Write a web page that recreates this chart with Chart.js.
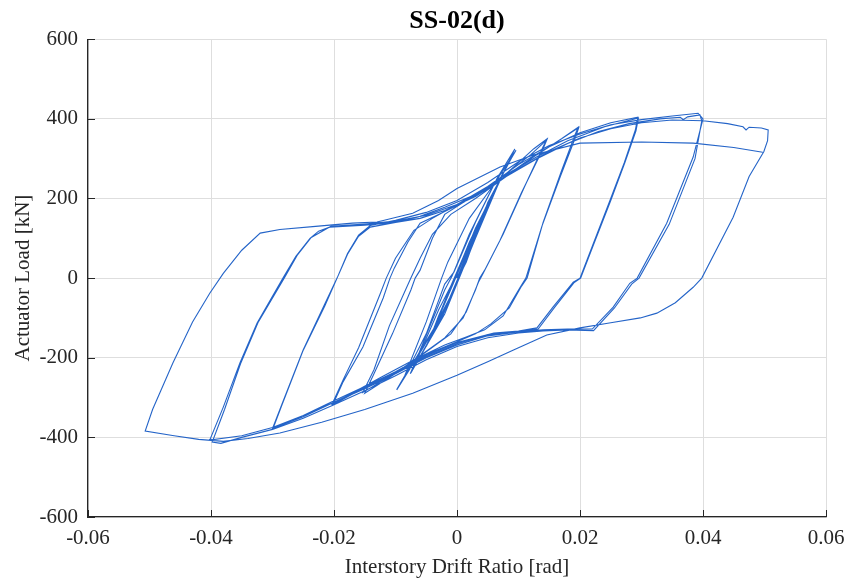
<!DOCTYPE html>
<html>
<head>
<meta charset="utf-8">
<title>SS-02(d)</title>
<script src="https://cdn.jsdelivr.net/npm/chart.js@4.4.1/dist/chart.umd.min.js"></script>
<style>
  html, body { margin: 0; padding: 0; background: #ffffff; }
  #graph { width: 845px; height: 583px; }
</style>
</head>
<body>
<div id="graph"><canvas id="chart" width="845" height="583"></canvas></div>
<script>
// tick labels
const xTickLabels = ['-0.06', '-0.04', '-0.02', '0', '0.02', '0.04', '0.06'];
const yTickLabels = ['-600', '-400', '-200', '0', '200', '400', '600'];

// [drift ratio (rad), actuator load (kN)], in loading order
const start = [[0, 0]];

const cycles00375 = [
  [0.002, 75], [0.0038, 135],
  [0.003, 100], [0.0005, 10], [-0.001, -45], [-0.0037, -125],
  [-0.003, -100], [-0.0005, -10], [0.001, 45], [0.0038, 138],
  [0.003, 105], [0.0003, 5], [-0.0012, -50], [-0.0038, -128]
];

const cycles005 = [
  [-0.003, -95], [-0.0003, 0], [0.002, 80], [0.005, 185],
  [0.004, 150], [0.001, 30], [-0.001, -50], [-0.005, -170],
  [-0.004, -135], [-0.001, -20], [0.0015, 70], [0.005, 188],
  [0.004, 152], [0.0008, 25], [-0.0015, -65], [-0.005, -172]
];

const cycles0075 = [
  [-0.004, -140], [-0.0008, -15], [0.0005, 30], [0.003, 125], [0.0075, 262],
  [0.0065, 228], [0.003, 100], [0.0005, 5], [-0.002, -90], [-0.0075, -238],
  [-0.0065, -205], [-0.003, -80], [-0.0005, -5], [0.002, 90], [0.0075, 265],
  [0.0063, 225], [0.0025, 90], [0.0003, 0], [-0.0025, -100], [-0.0076, -240]
];

const cycles01 = [
  [-0.0065, -200], [-0.002, -30], [-0.0008, 5], [0.002, 110], [0.006, 235], [0.0096, 321],
  [0.0088, 300], [0.005, 190], [0.0015, 40], [0.0002, 0], [-0.002, -80], [-0.0055, -175], [-0.0098, -281],
  [-0.0088, -255], [-0.005, -140], [-0.002, -15], [-0.0005, 15], [0.003, 140], [0.0065, 250], [0.0094, 324],
  [0.0085, 295], [0.0045, 170], [0.001, 25], [-0.0005, -5], [-0.0035, -120], [-0.0098, -280]
];

const cycles015 = [
  [-0.0085, -245], [-0.005, -110], [-0.0025, 0], [-0.0015, 40], [0.002, 150], [0.006, 235],
  [0.01, 290], [0.0125, 325], [0.0146, 349],
  [0.014, 330], [0.011, 230], [0.0075, 110], [0.0045, 20], [0.0037, 0], [0.003, -30],
  [0.001, -100], [-0.002, -150], [-0.006, -195], [-0.01, -240], [-0.015, -289],
  [-0.0135, -240], [-0.0105, -140], [-0.0075, -30], [-0.0068, 0], [-0.006, 20], [-0.004, 100],
  [-0.002, 160], [0.002, 200], [0.007, 250], [0.012, 310], [0.0146, 347],
  [0.014, 325], [0.0105, 215], [0.007, 95], [0.0042, 10], [0.0035, -10], [0.0015, -85],
  [-0.001, -140], [-0.005, -185], [-0.01, -238], [-0.0153, -287]
];

const cycles02 = [
  [-0.0135, -230], [-0.011, -120], [-0.0075, 0], [-0.006, 50], [-0.004, 110], [-0.001, 160],
  [0.003, 200], [0.008, 255], [0.013, 310], [0.017, 350], [0.0197, 379],
  [0.0192, 360], [0.017, 270], [0.014, 140], [0.0114, 0], [0.0105, -20], [0.0085, -75],
  [0.0055, -115], [0.003, -140], [0, -160], [-0.005, -192], [-0.01, -235], [-0.015, -275], [-0.0202, -318],
  [-0.0185, -260], [-0.0153, -173], [-0.012, -50], [-0.0109, 0], [-0.0102, 25], [-0.008, 90],
  [-0.006, 138], [-0.003, 160], [0.001, 190], [0.006, 235], [0.011, 290], [0.016, 340], [0.0198, 378],
  [0.0193, 355], [0.0168, 255], [0.0138, 130], [0.0112, 0], [0.0102, -25], [0.0075, -95],
  [0.0045, -130], [0.0015, -148], [-0.002, -168], [-0.007, -205], [-0.0125, -250], [-0.0203, -316]
];

const cycles03 = [
  [-0.0185, -255], [-0.016, -175], [-0.0125, -40], [-0.0115, 0], [-0.01, 50], [-0.007, 120],
  [-0.004, 150], [0, 185], [0.005, 230], [0.01, 285], [0.015, 330], [0.02, 365], [0.025, 390], [0.0294, 404],
  [0.029, 372], [0.0272, 290], [0.0249, 196], [0.022, 80], [0.02, 0], [0.0189, -10], [0.0156, -73],
  [0.013, -125], [0.01, -133], [0.006, -138], [0.003, -150], [0, -162], [-0.005, -195], [-0.01, -235],
  [-0.015, -272], [-0.02, -308], [-0.025, -345], [-0.0299, -377],
  [-0.0285, -320], [-0.025, -181], [-0.0215, -70], [-0.0195, 0], [-0.0178, 60], [-0.016, 105],
  [-0.0141, 128], [-0.01, 140], [-0.006, 155], [-0.002, 178], [0.003, 210], [0.008, 260],
  [0.013, 305], [0.018, 345], [0.024, 380], [0.0295, 402],
  [0.0291, 370], [0.0273, 290], [0.025, 195], [0.0221, 80], [0.0201, 0], [0.019, -12], [0.0158, -75],
  [0.0132, -128], [0.01, -135], [0.005, -142], [0, -165], [-0.005, -198], [-0.01, -238],
  [-0.015, -275], [-0.02, -312], [-0.025, -348], [-0.03, -378]
];

const cycles04 = [
  [-0.0285, -318], [-0.025, -180], [-0.0215, -65], [-0.0195, 0], [-0.0178, 62], [-0.016, 108],
  [-0.0141, 132], [-0.01, 145], [-0.005, 165], [0, 195], [0.005, 240], [0.01, 292], [0.015, 333],
  [0.02, 362], [0.025, 385], [0.03, 398], [0.035, 407], [0.0392, 414],
  [0.04, 400], [0.0384, 304], [0.0341, 138], [0.0293, 0], [0.0281, -13], [0.0254, -73], [0.022, -128],
  [0.018, -128], [0.014, -130], [0.01, -135], [0.005, -145], [0, -168], [-0.005, -200], [-0.01, -240],
  [-0.015, -278], [-0.02, -312], [-0.025, -345], [-0.03, -375], [-0.035, -396], [-0.0402, -407],
  [-0.038, -324], [-0.0353, -213], [-0.0325, -113], [-0.0283, 0], [-0.0262, 55], [-0.0239, 100],
  [-0.0225, 118], [-0.0207, 128], [-0.015, 133], [-0.01, 140], [-0.006, 150], [-0.002, 170],
  [0.003, 205], [0.008, 255], [0.013, 300], [0.018, 338], [0.023, 368], [0.028, 388], [0.033, 400],
  [0.0363, 404], [0.0368, 398], [0.0375, 405], [0.0395, 410],
  [0.0398, 395], [0.0387, 300], [0.0345, 135], [0.0296, 0], [0.0284, -15], [0.0256, -75], [0.0222, -132],
  [0.018, -130], [0.014, -133], [0.01, -138], [0.005, -150], [0, -172], [-0.005, -205], [-0.01, -245],
  [-0.015, -283], [-0.02, -318], [-0.025, -352], [-0.03, -380], [-0.035, -400], [-0.0384, -415], [-0.0398, -412]
];

const excursion05 = [
  [-0.0378, -330], [-0.0352, -215], [-0.0323, -110], [-0.0281, 0], [-0.026, 57], [-0.0237, 102],
  [-0.0205, 130], [-0.015, 136], [-0.01, 143], [-0.005, 158], [0, 185], [0.005, 228], [0.01, 275],
  [0.015, 318], [0.02, 352], [0.025, 375], [0.03, 390], [0.035, 397], [0.04, 395], [0.044, 388],
  [0.0465, 380], [0.047, 372], [0.0475, 379], [0.0495, 377], [0.0506, 372], [0.0505, 345], [0.0499, 318],
  [0.0475, 255], [0.0449, 153], [0.0398, 0], [0.0384, -23], [0.0355, -62], [0.0325, -88], [0.0298, -100],
  [0.025, -112], [0.02, -125], [0.0146, -143], [0.0091, -181], [0.005, -210], [0, -244], [-0.0072, -289],
  [-0.015, -330], [-0.022, -362], [-0.0288, -389], [-0.034, -403], [-0.038, -410], [-0.042, -405],
  [-0.046, -396], [-0.0507, -384],
  [-0.0495, -330], [-0.0462, -213], [-0.043, -110], [-0.0402, -38], [-0.038, 12], [-0.035, 70],
  [-0.032, 113], [-0.0288, 122], [-0.023, 130], [-0.017, 138], [-0.013, 141], [-0.0072, 163],
  [-0.003, 195], [0, 225], [0.007, 279], [0.0124, 309], [0.02, 339], [0.03, 342], [0.0384, 339],
  [0.045, 328], [0.0497, 316]
];

const history = [].concat(start, cycles00375, cycles005, cycles0075, cycles01,
  cycles015, cycles02, cycles03, cycles04, excursion05);

// MATLAB style ticks pointing into the axes
const innerTicks = {
  id: 'innerTicks',
  afterDatasetsDraw(chart) {
    const ctx = chart.ctx;
    const xs = chart.scales.x, ys = chart.scales.y;
    const a = chart.chartArea;
    ctx.save();
    ctx.strokeStyle = '#262626';
    ctx.lineWidth = 1;
    ctx.beginPath();
    xs.ticks.forEach((t, i) => {
      const px = Math.round(xs.getPixelForTick(i)) + 0.5;
      ctx.moveTo(px, a.bottom);
      ctx.lineTo(px, a.bottom - 7);
    });
    ys.ticks.forEach((t, i) => {
      const py = Math.round(ys.getPixelForTick(i)) + 0.5;
      ctx.moveTo(a.left, py);
      ctx.lineTo(a.left + 7, py);
    });
    ctx.stroke();
    ctx.restore();
  }
};

const serif = "'Liberation Serif', 'Times New Roman', serif";

new Chart(document.getElementById('chart'), {
  type: 'scatter',
  data: {
    datasets: [{
      data: history.map(p => ({ x: p[0], y: p[1] })),
      showLine: true,
      borderColor: '#2464c8',
      borderWidth: 1.1,
      pointRadius: 0,
      tension: 0,
      fill: false
    }]
  },
  options: {
    responsive: false,
    animation: false,
    layout: { padding: { left: 0, right: 19, top: 0, bottom: 0 } },
    plugins: {
      legend: { display: false },
      tooltip: { enabled: false },
      title: {
        display: true,
        fullSize: false,
        text: 'SS-02(d)',
        color: '#000000',
        font: { family: serif, size: 26, weight: 'bold' },
        padding: { top: 6, bottom: 2 }
      }
    },
    scales: {
      x: {
        type: 'linear',
        min: -0.06,
        max: 0.06,
        afterFit(scale) {
          scale.height = 66;
          scale.paddingLeft = 0;
          scale.paddingRight = 0;
        },
        ticks: {
          stepSize: 0.02,
          autoSkip: false,
          maxRotation: 0,
          padding: 9,
          color: '#262626',
          font: { family: serif, size: 21 },
          callback: (v, i) => xTickLabels[i]
        },
        grid: { color: '#dedede', lineWidth: 1, drawTicks: false },
        border: { display: true, color: '#262626', width: 1.3 },
        title: {
          display: true,
          text: 'Interstory Drift Ratio [rad]',
          color: '#262626',
          font: { family: serif, size: 21 },
          padding: { top: 0, bottom: 3 }
        }
      },
      y: {
        type: 'linear',
        min: -600,
        max: 600,
        afterFit(scale) { scale.width = 88; },
        ticks: {
          stepSize: 200,
          autoSkip: false,
          padding: 10,
          color: '#262626',
          font: { family: serif, size: 21 },
          callback: (v, i) => yTickLabels[i]
        },
        grid: { color: '#dedede', lineWidth: 1, drawTicks: false },
        border: { display: true, color: '#262626', width: 1.3 },
        title: {
          display: true,
          text: 'Actuator Load [kN]',
          color: '#262626',
          font: { family: serif, size: 21 },
          padding: { top: 11, bottom: 0 }
        }
      }
    }
  },
  plugins: [innerTicks]
});
</script>
</body>
</html>
